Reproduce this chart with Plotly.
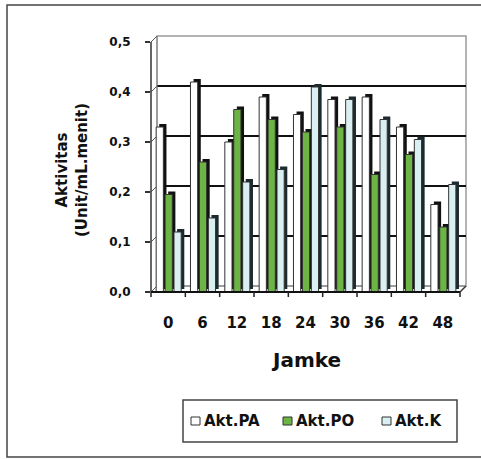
import plotly.graph_objects as go

# ---- data -------------------------------------------------------------
hours = ["0", "6", "12", "18", "24", "30", "36", "42", "48"]
akt_pa = [0.33, 0.42, 0.30, 0.39, 0.355, 0.385, 0.39, 0.33, 0.175]
akt_po = [0.195, 0.26, 0.365, 0.345, 0.32, 0.33, 0.235, 0.275, 0.13]
akt_k = [0.12, 0.148, 0.22, 0.245, 0.41, 0.385, 0.345, 0.305, 0.215]
series_names = ["Akt.PA", "Akt.PO", "Akt.K"]
y_ticks = [0.0, 0.1, 0.2, 0.3, 0.4, 0.5]

# ---- geometry ---------------------------------------------------------
FIG_W, FIG_H = 481, 459
M_L, M_R, M_T, M_B = 151, 15, 36, 167
plot_w = FIG_W - M_L - M_R
plot_h = FIG_H - M_T - M_B
n = len(hours)
DEPTH_PX = 6                                  # 3-D wall depth
cat_px = (plot_w - DEPTH_PX) / n
DX = DEPTH_PX / cat_px
Y_TOP = y_ticks[-1]
unit_px = (plot_h - DEPTH_PX) / Y_TOP
DY = DEPTH_PX / unit_px
X0, X1 = -0.5, n - 0.5 + DX
Y0, Y1 = 0.0, Y_TOP + DY


def px(v):
    return (v - X0) / (X1 - X0)


def py(v):
    return (v - Y0) / (Y1 - Y0)


def fx(p):
    return (p - M_L) / plot_w


def fy(p):
    return (FIG_H - M_B - p) / plot_h


FONT = "DejaVu Sans"
colors = ["#ffffff", "#6cb545", "#daeff1"]
side_colors = ["#111111", "#111111", "#1b2a2e"]

# bar layout inside a category
BAR_W = 0.21
STEP = 0.26
FIRST = -0.35
SDX = 0.09            # side-face depth (category units)
SDY = 3 / unit_px     # top-face depth (value units)

xs = list(range(n))
fig = go.Figure()
for i, (name, vals) in enumerate(zip(series_names, [akt_pa, akt_po, akt_k])):
    off = FIRST + STEP * i
    fig.add_trace(go.Bar(
        x=xs, y=vals, base=SDY, width=BAR_W, offset=off + SDX,
        marker=dict(color=side_colors[i], line=dict(width=0)),
        showlegend=False, hoverinfo="skip"))
    fig.add_trace(go.Bar(
        x=xs, y=vals, width=BAR_W, offset=off, name=name,
        marker=dict(color=colors[i], line=dict(color="#333333", width=1)),
        showlegend=False))

shapes = []
# back wall and its gridlines
shapes.append(dict(type="rect", xref="paper", yref="paper",
                   x0=px(X0 + DX), x1=px(n - 0.5 + DX), y0=py(DY), y1=py(Y_TOP + DY),
                   line=dict(color="#9a9a9a", width=1.5), fillcolor="white", layer="below"))
for v in y_ticks[1:-1]:
    shapes.append(dict(type="line", xref="paper", yref="paper",
                       x0=px(X0 + DX), x1=px(n - 0.5 + DX), y0=py(v + DY), y1=py(v + DY),
                       line=dict(color="#111111", width=2), layer="below"))
for v in y_ticks:
    shapes.append(dict(type="line", xref="paper", yref="paper",
                       x0=px(X0), x1=px(X0 + DX), y0=py(v), y1=py(v + DY),
                       line=dict(color="#555555", width=1), layer="below"))
# left wall (front and back edges)
shapes.append(dict(type="line", xref="paper", yref="paper",
                   x0=px(X0 + DX), x1=px(X0 + DX), y0=py(DY), y1=py(Y_TOP + DY),
                   line=dict(color="#888888", width=1), layer="below"))
shapes.append(dict(type="line", xref="paper", yref="paper",
                   x0=px(X0), x1=px(X0), y0=py(0), y1=py(Y_TOP),
                   line=dict(color="#333333", width=1.5), layer="above"))
# floor
shapes.append(dict(type="line", xref="paper", yref="paper",
                   x0=px(X0 + DX), x1=px(n - 0.5 + DX), y0=py(DY), y1=py(DY),
                   line=dict(color="#888888", width=1), layer="below"))
shapes.append(dict(type="line", xref="paper", yref="paper",
                   x0=px(X0), x1=px(n - 0.5), y0=py(0), y1=py(0),
                   line=dict(color="#111111", width=2), layer="above"))
shapes.append(dict(type="line", xref="paper", yref="paper",
                   x0=px(n - 0.5), x1=px(n - 0.5 + DX), y0=py(0), y1=py(DY),
                   line=dict(color="#333333", width=1.5), layer="above"))
# category boundary ticks
for k in range(n + 1):
    xb = px(k - 0.5)
    shapes.append(dict(type="line", xref="paper", yref="paper",
                       x0=xb, x1=xb, y0=py(0), y1=py(0) - 5 / plot_h,
                       line=dict(color="#222222", width=1.5), layer="above"))
# outer chart frame
shapes.append(dict(type="rect", xref="paper", yref="paper",
                   x0=fx(7), x1=fx(492), y0=fy(5), y1=fy(457),
                   line=dict(color="#444444", width=1.5), layer="below"))
# legend box and swatches
LEG_X0, LEG_X1, LEG_Y0, LEG_Y1 = 183, 457, 400, 442
shapes.append(dict(type="rect", xref="paper", yref="paper",
                   x0=fx(LEG_X0), x1=fx(LEG_X1), y0=fy(LEG_Y0), y1=fy(LEG_Y1),
                   line=dict(color="#444444", width=1.5), fillcolor="white", layer="below"))
legend_x = [191, 283, 382]
LEG_CY = 421
annotations = []
for i, name in enumerate(series_names):
    shapes.append(dict(type="rect", xref="paper", yref="paper",
                       x0=fx(legend_x[i]), x1=fx(legend_x[i] + 9),
                       y0=fy(LEG_CY - 4), y1=fy(LEG_CY + 4),
                       line=dict(color="#333333", width=1), fillcolor=colors[i], layer="above"))
    annotations.append(dict(xref="paper", yref="paper", x=fx(legend_x[i] + 11), y=fy(LEG_CY),
                            xanchor="left", yanchor="middle", showarrow=False, text=name,
                            font=dict(family=FONT, size=15, weight="bold", color="#111111")))

annotations.append(dict(xref="paper", yref="paper", x=fx(306), y=fy(360),
                        xanchor="center", yanchor="middle", showarrow=False, text="Jamke",
                        font=dict(family=FONT, size=20, weight="bold", color="#111111")))
annotations.append(dict(xref="paper", yref="paper", x=fx(72), y=fy(170),
                        xanchor="center", yanchor="middle", showarrow=False, textangle=-90,
                        text="Aktivitas<br>(Unit/mL.menit)",
                        font=dict(family=FONT, size=15, weight="bold", color="#111111")))

fig.update_layout(
    width=FIG_W, height=FIG_H,
    margin=dict(l=M_L, r=M_R, t=M_T, b=M_B),
    paper_bgcolor="white", plot_bgcolor="rgba(0,0,0,0)",
    barmode="overlay", showlegend=False,
    shapes=shapes, annotations=annotations,
    xaxis=dict(range=[X0, X1], tickvals=xs, ticktext=hours, ticks="",
               showgrid=False, zeroline=False, showline=False, fixedrange=True,
               ticklabelstandoff=20,
               tickfont=dict(family=FONT, size=15, weight="bold", color="#111111")),
    yaxis=dict(range=[Y0, Y1], tickvals=y_ticks,
               ticktext=[f"{v:.1f}".replace(".", ",") for v in y_ticks],
               ticks="outside", ticklen=5, tickcolor="#333333", tickwidth=1.5,
               showgrid=False, zeroline=False, showline=False, fixedrange=True,
               ticklabelstandoff=12,
               tickfont=dict(family=FONT, size=12, weight="bold", color="#111111")),
)

fig.write_html("out.html")
